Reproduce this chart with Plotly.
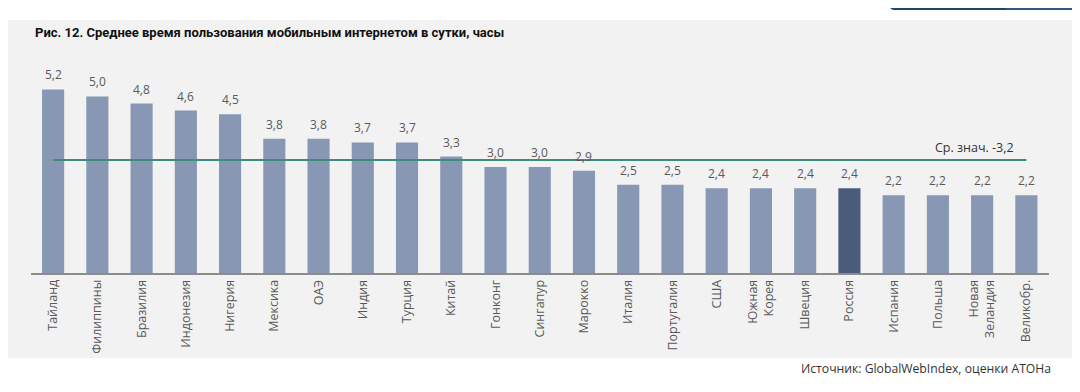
import plotly.graph_objects as go

categories = ["Тайланд", "Филиппины", "Бразилия", "Индонезия", "Нигерия", "Мексика", "ОАЭ",
              "Индия", "Турция", "Китай", "Гонконг", "Сингапур", "Марокко", "Италия",
              "Португалия", "США", "Южная<br>Корея", "Швеция", "Россия", "Испания", "Польша",
              "Новая<br>Зеландия", "Великобр."]
values = [5.2, 5.0, 4.8, 4.6, 4.5, 3.8, 3.8, 3.7, 3.7, 3.3, 3.0, 3.0, 2.9, 2.5,
          2.5, 2.4, 2.4, 2.4, 2.4, 2.2, 2.2, 2.2, 2.2]
highlight = "Россия"
average = 3.2
title = "Рис. 12. Среднее время пользования мобильным интернетом в сутки, часы"
avg_label = "Ср. знач. -3,2"
source = "Источник: GlobalWebIndex, оценки АТОНа"

# the page body has an 8px margin, so the figure is drawn 8px in from the window edge
OFF = 8
W, H = 1080 - OFF, 392 - OFF
def px(x):
    return (x - OFF) / W
def py(y):
    return 1 - (y - OFF) / H

BAR = "#8797b4"
BAR_HI = "#4a5b7c"
colors = [BAR_HI if c == highlight else BAR for c in categories]
FONT = "Open Sans"

fig = go.Figure()
fig.add_trace(go.Bar(
    x=categories, y=values, marker=dict(color=colors, line=dict(width=0)),
    width=0.5, showlegend=False, hoverinfo="skip",
))
fig.add_trace(go.Scatter(
    x=[categories[0], categories[-1]], y=[average, average], mode="lines",
    line=dict(color="#3d8c7c", width=2), showlegend=False, hoverinfo="skip",
))

annotations = []
for c, v in zip(categories, values):
    annotations.append(dict(
        x=c, y=v, xref="x", yref="y", text=f"{v:.1f}".replace(".", ","),
        showarrow=False, yanchor="bottom", yshift=4,
        font=dict(family=FONT, size=12, color="#595959"),
    ))
annotations.append(dict(
    x=categories[-2], y=average, xref="x", yref="y", text=avg_label, showarrow=False,
    xanchor="center", yanchor="bottom", yshift=2, xshift=-8,
    font=dict(family=FONT, size=12.5, color="#333333"),
))
annotations.append(dict(
    x=px(33), y=py(32), xref="paper", yref="paper", text="<b>" + title + "</b>",
    showarrow=False, xanchor="left", yanchor="middle",
    font=dict(family="Roboto", size=13, color="#111111"),
))
annotations.append(dict(
    x=px(1053), y=py(368), xref="paper", yref="paper", text=source,
    showarrow=False, xanchor="right", yanchor="middle",
    font=dict(family=FONT, size=12.2, color="#333333"),
))

shapes = [
    dict(type="rect", xref="paper", yref="paper", x0=px(0), x1=px(1076), y0=py(358), y1=py(20),
         fillcolor="#f2f2f2", line=dict(width=0), layer="below"),
    dict(type="path", xref="paper", yref="paper",
         path=f"M {px(878)} {py(0)} L {px(1073)} {py(0)} L {px(1073)} {py(10)} L {px(893)} {py(10)} Z",
         fillcolor="#1f4568", line=dict(width=0), layer="above"),
    dict(type="path", xref="paper", yref="paper",
         path=f"M {px(997)} {py(0)} L {px(1073)} {py(0)} L {px(1073)} {py(10)} L {px(1007)} {py(10)} Z",
         fillcolor="#2e5a82", line=dict(width=0), layer="above"),
]

fig.update_layout(
    width=W, height=H,
    margin=dict(l=0, r=0, t=0, b=0),
    paper_bgcolor="white", plot_bgcolor="rgba(0,0,0,0)",
    font=dict(family=FONT),
    annotations=annotations, shapes=shapes,
    bargap=0.5,
    xaxis=dict(domain=[px(31), px(1048.5)], range=[-0.5, len(categories) - 0.5],
               showgrid=False, zeroline=False, showline=True, linecolor="#8c8c8c", linewidth=1.5,
               ticks="", tickangle=-90, automargin=False,
               tickfont=dict(family=FONT, size=12.5, color="#595959")),
    yaxis=dict(domain=[py(273), py(60)], range=[0, 213 / 35.3], visible=False,
               showgrid=False, zeroline=False, automargin=False),
)

fig.write_html("out.html")
